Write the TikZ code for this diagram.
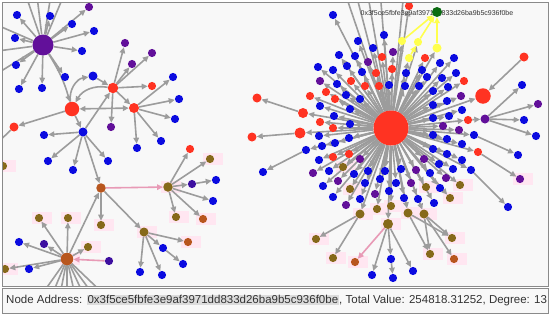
\documentclass[tikz,border=0pt]{standalone}
\usepackage{fontspec}
\setmainfont{Liberation Sans}
\usetikzlibrary{arrows.meta}
\pgfdeclarelayer{bgl}
\pgfdeclarelayer{edges}
\pgfdeclarelayer{top}
\pgfsetlayers{bgl,edges,main,top}
\definecolor{bgc}{HTML}{F8F8F8}
\definecolor{eg}{HTML}{9C9C9C}
\definecolor{nb}{HTML}{0B0BE0}
\definecolor{nr}{HTML}{FF3322}
\definecolor{np}{HTML}{62109A}
\definecolor{nd}{HTML}{3D0FA0}
\definecolor{no}{HTML}{86691A}
\definecolor{nk}{HTML}{B8561E}
\definecolor{ny}{HTML}{FFFF4D}
\definecolor{ng}{HTML}{0B6B12}
\definecolor{pk}{HTML}{FFE6F1}
\definecolor{pe}{HTML}{E89AB6}
\definecolor{tc}{HTML}{333333}
\definecolor{hl}{HTML}{DCDCDC}
\definecolor{fr}{HTML}{8A8A8A}
\setlength{\fboxsep}{1pt}
\tikzset{
  dot/.style={circle,inner sep=0pt,minimum size=8.2pt},
  edge/.style={draw=eg,line width=1.6pt,-{Triangle[length=6pt,width=5.5pt]}},
  yedge/.style={edge,draw=ny},
  pedge/.style={edge,draw=pe},
  pinkbg/.style={fill=pk,minimum width=20pt,minimum height=12pt,inner sep=0pt},
}
\begin{document}
\begin{tikzpicture}[x=1pt,y=-1pt]
\useasboundingbox (0,0) rectangle (550,316);
\begin{pgfonlayer}{bgl}
\fill[bgc] (2,2) rectangle (548,286);
\foreach \x/\y [count=\i] in {39/218,68/218,101/225,88/247,67/259,5/269,3/166,168/187,210/159,176/217,203/219,144/232,188/242,316/239,333/258,355/262,388/224,360/214,377/209,391/206,408/213,424/214,452/238,430/254,454/259,460/185,450/198,350/189,343/167,426/187,520/179}
  \node[pinkbg] (pb\i) at (\x+3,\y) {};
\end{pgfonlayer}

% ---------- left cluster ----------
\node[dot,fill=np,minimum size=21pt] (P) at (43,45) {};
\node[dot,fill=nr,minimum size=14.5pt] (A) at (72,109) {};
\node[dot,fill=nr,minimum size=10.5pt] (B) at (113,88) {};
\node[dot,fill=nr,minimum size=10pt] (C) at (134,108) {};
\node[dot,fill=nb,minimum size=9pt] (G) at (83,132) {};
\node[dot,fill=nb,minimum size=9pt] (G2) at (93,76) {};
\node[dot,fill=nr,minimum size=9pt] (L1) at (14,127) {};
\node[dot,fill=nk,minimum size=9.5pt] (D) at (101,188) {};
\node[dot,fill=no,minimum size=9.5pt] (E) at (168,187) {};
\node[dot,fill=nk,minimum size=12.5pt] (F) at (67,259) {};
\node[dot,fill=no,minimum size=9pt] (I) at (144,232) {};
\node[dot,fill=nd] (E6) at (192,184) {};
\node[dot,fill=nb] (E7) at (216,180) {};
\node[dot,fill=nb] (I2) at (163,248) {};
\node[dot,fill=nb] (I3) at (183,264) {};
\node[dot,fill=nd] (F8) at (109,261) {};
\node[dot,fill=no] (LE) at (3,166) {};
\node[dot,fill=no] (D1) at (101,225) {};
\coordinate (L1o) at (-10,150);

\foreach \x/\y/\c [count=\i] in {17/15/nb,50/16/nb,72/24/nb,94/31/nb,15/38/nb,82/51/nb,16/65/nb,19/89/nb,42/88/nb,65/77/nb,89/7/np}{
  \node[dot,fill=\c] (PS\i) at (\x,\y) {};
  \begin{pgfonlayer}{edges}\draw[edge] (P) -- (PS\i);\end{pgfonlayer}
}
\foreach \x/\y [count=\i] in {24/-10,36/-12,52/-12,66/-10,-10/22,-10/52,-10/78}{
  \coordinate (PO\i) at (\x,\y);
  \begin{pgfonlayer}{edges}\draw[edge] (P) -- (PO\i);\end{pgfonlayer}
}
\foreach \x/\y/\c [count=\i] in {125/43/np,152/53/np,132/64/np,152/86/nr,111/127/np}{
  \node[dot,fill=\c] (BS\i) at (\x,\y) {};
  \begin{pgfonlayer}{edges}\draw[edge] (B) -- (BS\i);\end{pgfonlayer}
}
\foreach \x/\y/\c [count=\i] in {173/77/nb,179/99/nb,175/119/nb,161/141/nb,137/148/nb}{
  \node[dot,fill=\c] (CS\i) at (\x,\y) {};
  \begin{pgfonlayer}{edges}\draw[edge] (C) -- (CS\i);\end{pgfonlayer}
}
\foreach \x/\y/\c [count=\i] in {44/135/nb,48/161/nb,73/170/nb,108/161/nb}{
  \node[dot,fill=\c] (GS\i) at (\x,\y) {};
  \begin{pgfonlayer}{edges}\draw[edge] (G) -- (GS\i);\end{pgfonlayer}
}
\foreach \x/\y/\c [count=\i] in {190/149/nr,210/159/no,213/201/nb,176/217/no,203/219/nk}{
  \node[dot,fill=\c] (ES\i) at (\x,\y) {};
  \begin{pgfonlayer}{edges}\draw[edge] (E) -- (ES\i);\end{pgfonlayer}
}
\foreach \x/\y/\c [count=\i] in {188/242/nk,140/272/nb,162/275/nb}{
  \node[dot,fill=\c] (IS\i) at (\x,\y) {};
  \begin{pgfonlayer}{edges}\draw[edge] (I) -- (IS\i);\end{pgfonlayer}
}
\foreach \x/\y/\c [count=\i] in {39/218/no,68/218/no,88/247/no,19/242/nb,44/244/nd,5/269/no,29/269/nb}{
  \node[dot,fill=\c] (FS\i) at (\x,\y) {};
  \begin{pgfonlayer}{edges}\draw[edge] (F) -- (FS\i);\end{pgfonlayer}
}
\foreach \x/\y [count=\i] in {38/300,50/300,59/300,67/300,76/300,86/300,97/300,110/300}{
  \coordinate (FO\i) at (\x,\y);
  \begin{pgfonlayer}{edges}\draw[edge] (F) -- (FO\i);\end{pgfonlayer}
}
\begin{pgfonlayer}{edges}
\draw[edge] (P) to[bend left=8] (A);
\draw[edge] (A) to[bend left=45] (G2);
\draw[edge] (G2) -- (B);
\draw[edge] (B) to[bend right=35] (A);
\draw[draw=eg,line width=1.6pt,{Triangle[length=6pt,width=5.5pt]}-{Triangle[length=6pt,width=5.5pt]}] (A) -- (C);
\draw[edge] (A) -- (L1);
\draw[edge] (L1) -- (L1o);
\draw[edge] (A) -- (G);
\draw[edge] (G) -- (B);
\draw[edge] (B) -- (C);
\draw[edge] (G) -- (D);
\draw[pedge] (D) -- (E);
\draw[edge] (D) -- (D1);
\draw[edge] (D) -- (I);
\draw[edge] (F) -- (D);
\draw[edge] (E) -- (E6);
\draw[edge] (E6) -- (E7);
\draw[edge] (I) -- (I2);
\draw[edge] (I2) -- (I3);
\draw[pedge] (F8) -- (F);
\end{pgfonlayer}

% ---------- right cluster ----------
\node[dot,fill=nr,minimum size=35pt] (H) at (391,128) {};
\foreach \x/\y/\c [count=\i] in {333/15/nb,409/6/nr,384/35/nb,358/41/nb,373/48/nb,393/52/np,368/62/np,339/55/nb,355/56/nb,318/67/nb,333/70/nb,347/66/nb,362/72/nb,382/57/nr,392/69/nr,376/73/nr,425/58/nr,406/73/nb,422/70/nb,440/63/nb,454/58/nb,456/73/nb,320/81/np,337/84/nb,351/81/nr,365/86/nr,379/86/nr,389/85/nb,405/86/nb,419/86/nb,427/77/nb,442/78/nb,433/91/nb,448/87/nb,464/81/nr,461/96/np,447/101/nb,433/105/nb,462/110/nb,433/118/nb,449/116/nb,443/126/np,459/130/np,433/135/nb,447/139/nb,462/144/nb,326/92/nr,335/99/nr,346/95/nb,360/99/nb,310/96/nr,320/106/nb,350/109/nb,334/116/nb,320/122/nr,350/124/nb,333/128/nr,319/136/nb,349/138/nb,335/143/nb,322/146/nb,333/157/nr,349/154/nr,360/159/np,319/160/nb,313/173/np,329/171/nb,343/167/no,323/186/nb,338/181/np,354/174/nb,368/171/nb,385/171/nb,401/169/nb,416/170/np,430/173/nb,439/164/nb,453/169/nb,462/160/nb,447/154/nb,433/149/nb,424/159/np,446/178/np,460/185/no,450/198/no,350/189/no,365/183/nb,380/179/nb,396/183/nb,411/183/np,426/187/no,440/188/nb,333/197/nb,346/205/np,360/199/nb,375/194/np,389/191/nb,404/198/nb,418/199/nb,434/203/nb,377/209/no,391/206/no}{
  \node[dot,fill=\c] (R\i) at (\x,\y) {};
  \begin{pgfonlayer}{edges}\draw[edge] (H) -- (R\i);\end{pgfonlayer}
}
\foreach \x/\y [count=\i] in {344/-10,355/-10,367/-10,380/-10,404/-10}{
  \coordinate (HO\i) at (\x,\y);
  \begin{pgfonlayer}{edges}\draw[edge] (H) -- (HO\i);\end{pgfonlayer}
}
% named specials
\node[dot,fill=nr,minimum size=10pt] (RL1) at (303,113) {};
\node[dot,fill=nr,minimum size=9pt] (RL1o) at (257,98) {};
\node[dot,fill=nr,minimum size=11pt] (RL2) at (300,133) {};
\node[dot,fill=nr,minimum size=9pt] (RL2o) at (252,137) {};
\node[dot,fill=nb] (RL3) at (306,150) {};
\node[dot,fill=nb] (RL3o) at (263,172) {};
\node[dot,fill=nr,minimum size=15.5pt] (RB) at (483,96) {};
\node[dot,fill=nr,minimum size=9pt] (RBi) at (524,57) {};
\node[dot,fill=nr] (RR) at (468,120) {};
\node[dot,fill=np,minimum size=9pt] (RP) at (485,119) {};
\node[dot,fill=nb] (RP1) at (522,85) {};
\node[dot,fill=np] (RP2) at (538,104) {};
\node[dot,fill=nb] (RP3) at (524,120) {};
\node[dot,fill=nb] (RP4) at (536,136) {};
\node[dot,fill=nb] (RX1) at (474,135) {};
\node[dot,fill=nb] (RX1o) at (518,155) {};
\node[dot,fill=nr] (RX2) at (478,152) {};
\node[dot,fill=np] (RX2o) at (520,179) {};
\node[dot,fill=nb] (RX3) at (471,170) {};
\node[dot,fill=nb] (RX3o) at (508,207) {};
\node[dot,fill=ny] (Y1) at (402,41) {};
\node[dot,fill=ny] (Y2) at (418,42) {};
\node[dot,fill=ny,minimum size=9pt] (Y3) at (437,48) {};
\node[dot,fill=ny] (Y4) at (409,58) {};
\node[text=tc,font=\fontsize{7}{8}\selectfont,inner sep=0pt] (GL) at (437,12.5) {0x3f5ce5fbfe3e9af3971dd833d26ba9b5c936f0be};
\node[dot,fill=ng,minimum size=10pt] (GN) at (437,12) {};
\node[dot,fill=no,minimum size=9pt] (S1) at (360,214) {};
\node[dot,fill=no,minimum size=9pt] (S2) at (408,213) {};
\node[dot,fill=no,minimum size=9pt] (S3) at (424,214) {};
\node[dot,fill=no,minimum size=10pt] (S4) at (388,224) {};
\node[dot,fill=no] (T1) at (316,239) {};
\node[dot,fill=no] (T2) at (333,258) {};
\node[dot,fill=nk] (T3) at (355,262) {};
\node[dot,fill=nb] (T4) at (391,259) {};
\node[dot,fill=nb] (T5) at (372,275) {};
\node[dot,fill=nb] (T6) at (413,271) {};
\node[dot,fill=nb] (T7) at (393,278) {};
\node[dot,fill=no] (U1) at (452,238) {};
\node[dot,fill=no] (U2) at (430,254) {};
\node[dot,fill=nk] (U3) at (454,259) {};

\begin{pgfonlayer}{edges}
\draw[edge] (H) -- (RL1); \draw[edge] (RL1) -- (RL1o);
\draw[edge] (H) -- (RL2); \draw[edge] (RL2) -- (RL2o);
\draw[edge] (H) -- (RL3); \draw[edge] (RL3) -- (RL3o);
\draw[edge] (H) -- (RB); \draw[edge] (RBi) -- (RB);
\draw[edge] (H) -- (RR); \draw[edge] (RR) -- (RP);
\draw[edge] (RP) -- (RP1); \draw[edge] (RP) -- (RP2);
\draw[edge] (RP) -- (RP3); \draw[edge] (RP) -- (RP4);
\draw[edge] (H) -- (RX1); \draw[edge] (RX1) -- (RX1o);
\draw[edge] (H) -- (RX2); \draw[edge] (RX2) -- (RX2o);
\draw[edge] (H) -- (RX3); \draw[edge] (RX3) -- (RX3o);
\draw[edge] (H) -- (Y1); \draw[edge] (H) -- (Y2);
\draw[edge] (H) -- (Y3); \draw[edge] (H) -- (Y4);
\draw[yedge] (Y1) -- (GN); \draw[yedge] (Y2) -- (GN);
\draw[yedge] (Y3) -- (GN); \draw[yedge] (Y4) -- (Y2);
\draw[edge] (H) -- (S1); \draw[edge] (H) -- (S2);
\draw[edge] (H) -- (S3); \draw[edge] (H) -- (S4);
\draw[edge] (S1) -- (T1); \draw[edge] (S1) -- (T2);
\draw[pedge] (S4) -- (T3); \draw[edge] (S4) -- (T4);
\draw[edge] (S4) -- (T5); \draw[edge] (S4) -- (T6);
\draw[edge] (T4) -- (T7);
\draw[edge] (S2) -- (U1); \draw[edge] (S2) -- (U2);
\draw[edge] (S3) -- (U1); \draw[edge] (S3) -- (U3);
\draw[edge] (S3) -- (U2);
\end{pgfonlayer}

% ---------- frame and status bar ----------
\begin{pgfonlayer}{top}
\fill[white,even odd rule] (-10,-10) rectangle (560,330) (2,2) rectangle (548,286);
\draw[fr,line width=1pt] (2,2) rectangle (548,286);
\draw[fr,line width=1pt,fill=bgc] (2,288) rectangle (548,313);
\node[anchor=west,inner sep=0pt,text=tc,font=\fontsize{11.5}{13}\selectfont] (bar) at (6,300.5)
  {Node Address: \colorbox{hl}{0x3f5ce5fbfe3e9af3971dd833d26ba9b5c936f0be}, Total Value: 254818.31252, Degree: 13};
\end{pgfonlayer}
\end{tikzpicture}
\end{document}
